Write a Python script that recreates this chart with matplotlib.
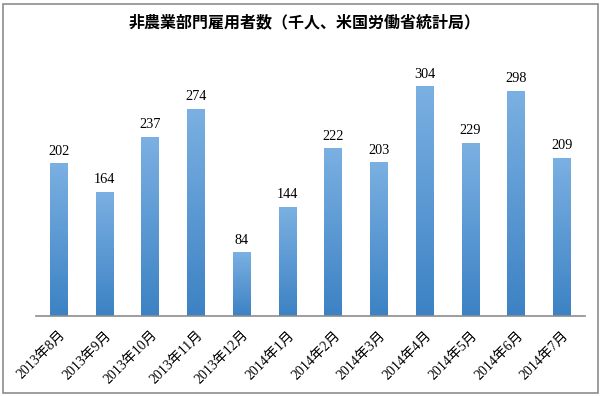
import numpy as np
import matplotlib.pyplot as plt
from matplotlib.colors import LinearSegmentedColormap
from matplotlib.patches import Rectangle

months = ['2013年8月', '2013年9月', '2013年10月', '2013年11月', '2013年12月', '2014年1月',
          '2014年2月', '2014年3月', '2014年4月', '2014年5月', '2014年6月', '2014年7月']
jobs = [202, 164, 237, 274, 84, 144, 222, 203, 304, 229, 298, 209]

serif = ['Liberation Serif', 'Noto Sans CJK JP']

fig = plt.figure(figsize=(6.04, 3.96), dpi=100)
ax = fig.add_axes([36/604, 80/396, 549/604, 264/396])

# bars are drawn as gradient images, darker at the bottom
cmap = LinearSegmentedColormap.from_list('bar', ['#3c82c4', '#7bb0e2'])
grad = np.linspace(1, 0, 256).reshape(-1, 1)
w = 0.39
x = np.arange(len(jobs))
for xi, v in zip(x, jobs):
    ax.imshow(grad, cmap=cmap, extent=[xi - w/2, xi + w/2, 0, v], aspect='auto',
              interpolation='bicubic', zorder=2)
    ax.text(xi, v + 8, str(v), ha='center', va='bottom', fontsize=10.3, family=serif)

ax.set_xlim(-0.5, len(jobs) - 0.5)
ax.set_ylim(0, 350)
ax.set_xticks(x)
ax.set_xticklabels(months, rotation=45, ha='right', rotation_mode='anchor',
                   fontsize=10, family=serif)
ax.tick_params(axis='x', length=0, pad=9)
ax.set_yticks([])
for s in ['top', 'right', 'left']:
    ax.spines[s].set_visible(False)
ax.spines['bottom'].set_color('#8c8c8c')
ax.spines['bottom'].set_linewidth(1.2)

fig.text(0.5 + 3/604, 1 - 22/396, '非農業部門雇用者数（千人、米国労働省統計局）', ha='center', va='center',
         fontsize=11.5, fontweight='bold', family=['Noto Sans CJK JP', 'DejaVu Sans'])

fig.patches.append(Rectangle((3/604, 3/396), 595/604, 389/396, transform=fig.transFigure,
                             fill=False, edgecolor='#8c8c8c', linewidth=1.2))

fig.savefig('out.png', dpi=100)
